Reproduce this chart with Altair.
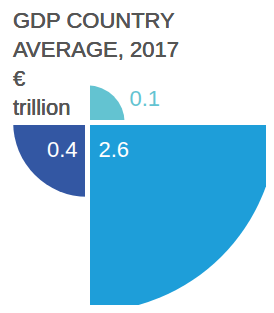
import altair as alt
import pandas as pd

# ---- data ----
categories = ["Smallest", "Largest", "Middle"]
values = [0.1, 2.6, 0.4]
quadrant = [0, 1, 2]          # 0 = top-right, 1 = bottom-right, 2 = bottom-left
colors = ["#63c3d1", "#1e9ed9", "#3357a3"]
title_lines = ["GDP COUNTRY", "AVERAGE, 2017", "€", "trillion"]

df = pd.DataFrame({"category": categories, "value": values, "quadrant": quadrant})

W, H = 258, 297
CX, CY = 79.5, 114.5   # common centre of the quarter circles (chart coords)
FONT = "Liberation Sans"

base = alt.Chart(df)

arcs = base.mark_arc().encode(
    x=alt.value(CX),
    y=alt.value(CY),
    theta=alt.Theta("start:Q", scale=None),
    theta2="end:Q",
    radius=alt.Radius("value:Q", scale=alt.Scale(type="sqrt", zero=True, nice=False,
                                                 domain=[0, max(values)], range=[0, 189.5])),
    color=alt.Color("category:N", scale=alt.Scale(domain=categories, range=colors), legend=None),
).transform_calculate(
    start="datum.quadrant * PI / 2",
    end="(datum.quadrant + 1) * PI / 2",
)

gap_v = alt.Chart(df).mark_rule(color="white", strokeWidth=5).encode(
    x=alt.value(CX), y=alt.value(CY - 50), y2=alt.value(H)
)
gap_h = alt.Chart(df).mark_rule(color="white", strokeWidth=5).encode(
    y=alt.value(CY), x=alt.value(0), x2=alt.value(W)
)

title = alt.Chart(df).mark_text(
    align="left", baseline="alphabetic", font=FONT, fontSize=22,
    color="#555555", lineBreak="\n", lineHeight=29,
).encode(
    x=alt.value(5), y=alt.value(20), text=alt.value("\n".join(title_lines))
)

def label(cat, x, y, align, color):
    return base.transform_filter(alt.datum.category == cat).mark_text(
        align=align, baseline="alphabetic", font=FONT, fontSize=22, color=color
    ).encode(x=alt.value(x), y=alt.value(y), text=alt.Text("value:Q", format=".1f"))

lab_small = label("Smallest", CX + 42, CY - 17, "left", "#63c3d1")
lab_large = label("Largest", CX + 11, CY + 34, "left", "white")
lab_mid = label("Middle", CX - 10, CY + 34, "right", "white")

chart = alt.layer(arcs, gap_v, gap_h, title, lab_small, lab_large, lab_mid).properties(
    width=W, height=H, padding=0, autosize=alt.AutoSizeParams(type="none")
).configure_view(stroke=None)

chart.save("out.html", embed_options={"renderer": "svg", "actions": False})
